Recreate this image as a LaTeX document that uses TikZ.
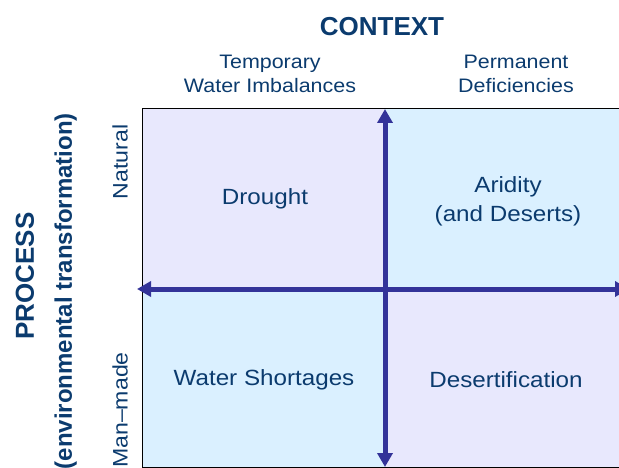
\documentclass[tikz,border=0pt]{standalone}
\usepackage{fontspec}
\setmainfont{Liberation Sans}
\newfontfamily\widefont[FakeStretch=1.1]{Liberation Sans}
\usetikzlibrary{arrows.meta}
\definecolor{navy}{HTML}{0B3B6E}
\definecolor{arrowc}{HTML}{333399}
\definecolor{lav}{HTML}{E8E8FD}
\definecolor{sky}{HTML}{DAF0FF}
\tikzset{
  lbl/.style={text=navy, font=\widefont\fontsize{22}{29}\selectfont, align=center, inner sep=0pt},
  hdr/.style={text=navy, font=\widefont\fontsize{19.5}{24}\selectfont, align=center, inner sep=0pt},
  quad/.style={draw=none, inner sep=0pt, anchor=north west},
  axis/.style={draw=arrowc, line width=5pt, {Triangle[length=14pt,width=15pt]}-{Triangle[length=14pt,width=15pt]}}
}
\begin{document}
\begin{tikzpicture}[x=1pt,y=-1pt]
\useasboundingbox (0,0) rectangle (619,468);
\node[quad, fill=lav, minimum width=243pt, minimum height=180pt] (q1) at (142,109) {};
\node[quad, fill=sky, minimum width=250pt, minimum height=180pt] (q2) at (385,109) {};
\node[quad, fill=sky, minimum width=243pt, minimum height=178pt] (q3) at (142,289) {};
\node[quad, fill=lav, minimum width=250pt, minimum height=178pt] (q4) at (385,289) {};
\draw[black, line width=1pt] (635,109) -- (142,109) -- (142,467) -- (635,467);
\coordinate (vt) at (385,109);
\coordinate (vb) at (385,467);
\coordinate (hl) at (137,289);
\coordinate (hr) at (629,289);
\draw[axis] (vt) -- (vb);
\draw[axis] (hl) -- (hr);
\node[text=navy, font=\bfseries\fontsize{26}{30}\selectfont, inner sep=0pt] (ctx) at (382,27) {CONTEXT};
\node[hdr] (temp) at (270,74) {Temporary\\Water Imbalances};
\node[hdr] (perm) at (516,74) {Permanent\\Deficiencies};
\node[lbl] (drought) at (265,199) {Drought};
\node[lbl] (arid) at (508,201) {Aridity\\(and Deserts)};
\node[lbl] (ws) at (264,380) {Water Shortages};
\node[lbl] (des) at (506,380) {Desertification};
\node[lbl, rotate=90, font=\widefont\fontsize{21}{25}\selectfont] (nat) at (120,162) {Natural};
\node[lbl, rotate=90, font=\widefont\fontsize{21}{25}\selectfont] (man) at (120,410) {Man–made};
\node[text=navy, font=\bfseries\fontsize{26}{30}\selectfont, inner sep=0pt, rotate=90] (proc) at (25,276) {PROCESS};
\node[text=navy, font=\bfseries\fontsize{24}{28}\selectfont, inner sep=0pt, rotate=90, anchor=south east] (env) at (77,113) {(environmental transformation)};
\end{tikzpicture}
\end{document}
